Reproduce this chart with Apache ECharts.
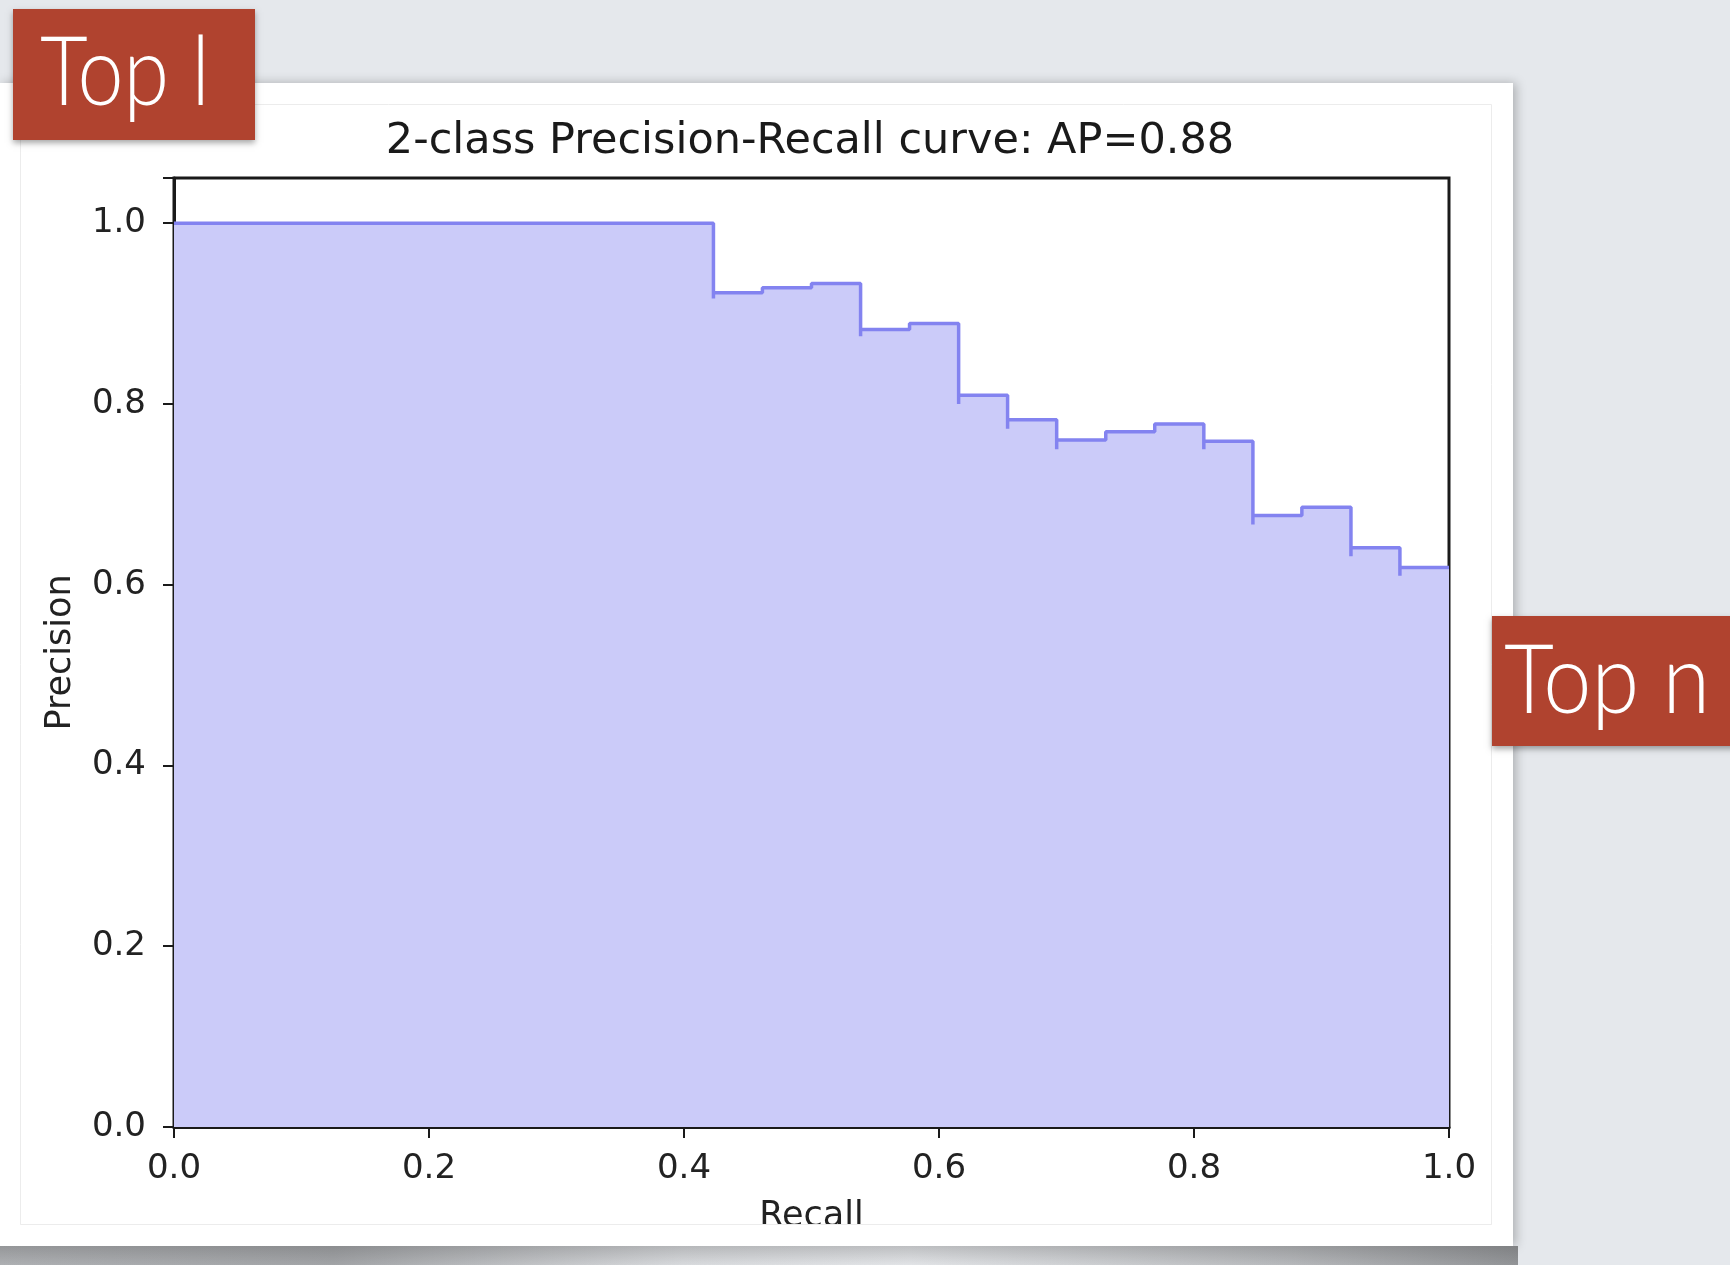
<!DOCTYPE html>
<html>
<head>
<meta charset="utf-8">
<title>2-class Precision-Recall curve</title>
<script src="https://cdn.jsdelivr.net/npm/echarts@6/dist/echarts.min.js"></script>
<style>
  html, body { margin: 0; padding: 0; background: #e5e8ec; }
  #chart { width: 1730px; height: 1265px; }
</style>
</head>
<body>
<div id="chart"></div>
<script>
// Precision-recall pairs, ordered by descending recall (one entry per threshold)
const recall = [
  1.0000, 0.9615, 0.9615, 0.9615, 0.9231, 0.9231, 0.9231, 0.9231, 0.8846,
  0.8462, 0.8462, 0.8462, 0.8462, 0.8462, 0.8077, 0.8077, 0.7692, 0.7308,
  0.6923, 0.6923, 0.6538, 0.6538, 0.6154, 0.6154, 0.6154, 0.5769, 0.5385,
  0.5385, 0.5000, 0.4615, 0.4231, 0.4231, 0.3846, 0.3462, 0.3077, 0.2692,
  0.2308, 0.1923, 0.1538, 0.1154, 0.0769, 0.0385, 0.0000
];
const precision = [
  0.6190, 0.6098, 0.6250, 0.6410, 0.6316, 0.6486, 0.6667, 0.6857, 0.6765,
  0.6667, 0.6875, 0.7097, 0.7333, 0.7586, 0.7500, 0.7778, 0.7692, 0.7600,
  0.7500, 0.7826, 0.7727, 0.8095, 0.8000, 0.8421, 0.8889, 0.8824, 0.8750,
  0.9333, 0.9286, 0.9231, 0.9167, 1.0000, 1.0000, 1.0000, 1.0000, 1.0000,
  1.0000, 1.0000, 1.0000, 1.0000, 1.0000, 1.0000, 1.0000
];
const averagePrecision = 0.88;
const xTicks = [0.0, 0.2, 0.4, 0.6, 0.8, 1.0];
const yTicks = [0.0, 0.2, 0.4, 0.6, 0.8, 1.0];
const slideTags = ['Top l', 'Top n'];

const points = recall.map((r, i) => [r, precision[i]]);
const tickFmt = v => v.toFixed(1);
const axisColor = '#1a1a1a';
const textColor = '#222222';
const plotFont = 'DejaVu Sans';

const chart = echarts.init(document.getElementById('chart'), null, { renderer: 'canvas' });

chart.setOption({
  backgroundColor: '#e5e8ec',
  animation: false,
  title: {
    text: '2-class Precision-Recall curve: AP=' + averagePrecision.toFixed(2),
    left: 810,
    top: 120,
    textAlign: 'center',
    padding: 0,
    textStyle: { fontFamily: plotFont, fontSize: 43, fontWeight: 'normal', color: '#1a1a1a' }
  },
  grid: {
    left: 174, right: 281, top: 178, bottom: 138,
    show: true, borderColor: axisColor, borderWidth: 3, backgroundColor: 'transparent'
  },
  xAxis: {
    type: 'value', min: 0, max: 1, interval: 0.2,
    name: 'Recall', nameLocation: 'middle', nameGap: 72,
    nameTextStyle: { fontFamily: plotFont, fontSize: 35, color: textColor },
    axisLine: { show: true, lineStyle: { color: axisColor, width: 3 } },
    axisTick: { show: true, length: 11, lineStyle: { color: axisColor, width: 2 } },
    axisLabel: {
      margin: 25, fontFamily: plotFont, fontSize: 34, color: textColor,
      formatter: v => xTicks.some(t => Math.abs(t - v) < 1e-9) ? tickFmt(v) : ''
    },
    splitLine: { show: false }
  },
  yAxis: {
    type: 'value', min: 0, max: 1.05, interval: 0.2,
    name: 'Precision', nameLocation: 'middle', nameGap: 96, nameRotate: 90,
    nameTextStyle: { fontFamily: plotFont, fontSize: 35, color: textColor },
    axisLine: { show: true, lineStyle: { color: axisColor, width: 3 } },
    axisTick: { show: true, length: 11, lineStyle: { color: axisColor, width: 2 } },
    axisLabel: {
      margin: 28, fontFamily: plotFont, fontSize: 34, color: textColor,
      formatter: v => yTicks.some(t => Math.abs(t - v) < 1e-9) ? tickFmt(v) : ''
    },
    splitLine: { show: false }
  },
  series: [{
    type: 'line',
    data: points,
    step: 'end',
    showSymbol: false,
    symbol: 'none',
    lineStyle: { color: '#8383f0', width: 3.5 },
    areaStyle: { color: '#cbcbf9', opacity: 1 },
    z: 2
  }],
  graphic: {
    elements: [
      // slide card with its soft shadow
      { type: 'rect', z: -20, shape: { x: 0, y: 83, width: 1513, height: 1163 },
        style: { fill: '#ffffff', shadowBlur: 10, shadowOffsetX: 3, shadowColor: 'rgba(0,0,0,0.25)' } },
      // curled-page shadow under the card
      { type: 'rect', z: -19, shape: { x: 0, y: 1246, width: 1518, height: 19 },
        style: { fill: new echarts.graphic.LinearGradient(0, 0, 1, 0, [
          { offset: 0, color: '#aeb0b3' }, { offset: 0.22, color: '#a2a4a7' },
          { offset: 0.45, color: '#d8dadd' }, { offset: 0.6, color: '#e2e4e7' },
          { offset: 0.85, color: '#b6b8bb' }, { offset: 1, color: '#929497' }]) } },
      { type: 'rect', z: -18, shape: { x: 0, y: 1246, width: 1518, height: 19 },
        style: { fill: new echarts.graphic.LinearGradient(0, 0, 0, 1, [
          { offset: 0, color: 'rgba(60,60,60,0.22)' }, { offset: 1, color: 'rgba(60,60,60,0)' }]) } },
      // figure frame inside the card
      { type: 'rect', z: -17, shape: { x: 20.5, y: 104.5, width: 1471, height: 1120 },
        style: { fill: '#ffffff', stroke: '#ececec', lineWidth: 1 } },
      // lower card margin clipping the figure's bottom edge
      { type: 'rect', z: 50, shape: { x: 0, y: 1225, width: 1513, height: 21 },
        style: { fill: '#ffffff' } },
      { type: 'line', z: 51, shape: { x1: 20.5, y1: 1224.5, x2: 1491.5, y2: 1224.5 },
        style: { stroke: '#ececec', lineWidth: 1 } },
      // slide tags
      { type: 'rect', z: 60, shape: { x: 13, y: 9, width: 242, height: 131 },
        style: { fill: '#b0432f', shadowBlur: 6, shadowOffsetY: 3, shadowColor: 'rgba(0,0,0,0.35)' } },
      { type: 'text', z: 61, x: 40, y: 26, scaleX: 0.86,
        style: { text: slideTags[0], fill: '#ffffff', font: '300 96px Lato', textVerticalAlign: 'top' } },
      { type: 'rect', z: 60, shape: { x: 1492, y: 616, width: 260, height: 130 },
        style: { fill: '#b0432f', shadowBlur: 6, shadowOffsetY: 3, shadowColor: 'rgba(0,0,0,0.35)' } },
      { type: 'text', z: 61, x: 1504, y: 634, scaleX: 0.9,
        style: { text: slideTags[1], fill: '#ffffff', font: '300 96px Lato', textVerticalAlign: 'top' } }
    ]
  }
});
</script>
</body>
</html>
